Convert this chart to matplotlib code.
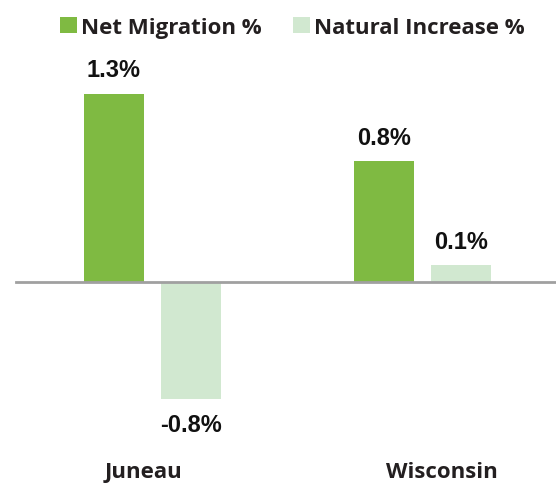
import matplotlib.pyplot as plt
import numpy as np

# data
categories = ['Juneau', 'Wisconsin']
series_names = ['Net Migration %', 'Natural Increase %']
net_migration = [1.28, 0.82]
natural_increase = [-0.80, 0.11]
net_labels = ['1.3%', '0.8%']
nat_labels = ['-0.8%', '0.1%']

green = '#7fba42'
light = '#d1e8d0'

fig = plt.figure(figsize=(5.56, 4.85), dpi=100)
ax = fig.add_axes([0, 0, 1, 1])

x = np.arange(len(categories))
w = 0.222
off = 0.1426
b1 = ax.bar(x - off, net_migration, w, color=green, label=series_names[0])
b2 = ax.bar(x + off, natural_increase, w, color=light, label=series_names[1])

ax.set_xlim(-0.5648, 1.4944)
ax.set_ylim(-1.382, 1.928)
ax.axhline(0, color='#a0a0a0', lw=2, xmin=0.029, zorder=3)
for s in ax.spines.values():
    s.set_visible(False)
ax.set_xticks([])
ax.set_yticks([])

vfont = dict(family='Liberation Sans', weight='bold', fontsize=17, color='#111111')
for bar, lab in zip(b1, net_labels):
    ax.annotate(lab, (bar.get_x() + bar.get_width() / 2, bar.get_height()),
                xytext=(0, 9), textcoords='offset points', ha='center', va='bottom', **vfont)
for bar, lab in zip(b2, nat_labels):
    h = bar.get_height()
    ax.annotate(lab, (bar.get_x() + bar.get_width() / 2, h),
                xytext=(0, 9 if h > 0 else -10), textcoords='offset points',
                ha='center', va='bottom' if h > 0 else 'top', **vfont)

cat_off = [-0.035, 0.07]
for i, c in enumerate(categories):
    ax.text(x[i] + cat_off[i], -1.30, c, ha='center', va='center',
            family='Open Sans', weight='bold', fontsize=16, color='#231f20')

leg = ax.legend(loc='upper center', bbox_to_anchor=(0.526, 1.005), ncol=2, frameon=False,
                handlelength=0.75, handleheight=0.75, handletextpad=0.2, columnspacing=1.4,
                prop=dict(family='Open Sans', weight='bold', size=16))
for t in leg.get_texts():
    t.set_color('#231f20')

fig.savefig('out.png', dpi=100)
